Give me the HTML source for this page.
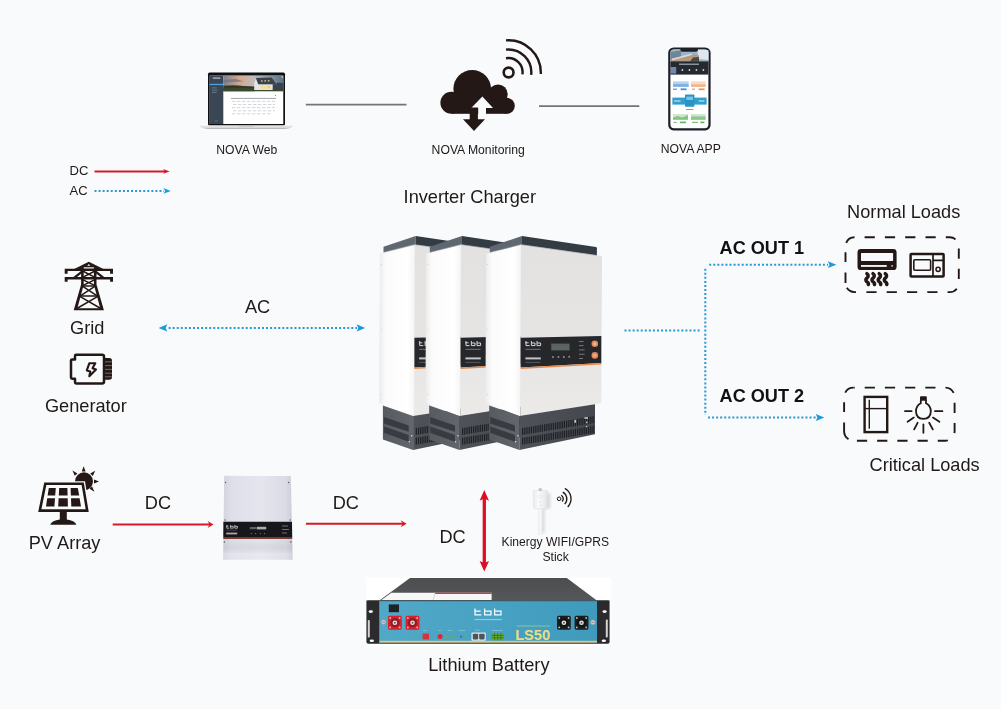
<!DOCTYPE html>
<html>
<head>
<meta charset="utf-8">
<title>NOVA System Diagram</title>
<style>
html,body{margin:0;padding:0;background:#f9fafc;}
body{width:1001px;height:709px;overflow:hidden;font-family:"Liberation Sans",sans-serif;}
svg{display:block;}
text{font-family:"Liberation Sans",sans-serif;fill:#1f1a17;}
.t18{font-size:18.2px;}
.t12{font-size:12.2px;}
.b{font-weight:bold;font-size:18.1px;fill:#111;}
.ic{fill:#231815;}
.is{stroke:#231815;fill:none;}
.red{stroke:#d7182a;fill:none;stroke-width:2;}
.redf{fill:#d7182a;}
.blu{stroke:#2b97d4;fill:none;stroke-width:2;stroke-dasharray:2 2.06;}
.bluf{fill:#1a9adc;}
</style>
</head>
<body>
<svg width="1001" height="709" viewBox="0 0 1001 709">
<defs>
<linearGradient id="gSide" x1="0" y1="0" x2="1" y2="0">
<stop offset="0" stop-color="#ebebeb"/><stop offset="0.18" stop-color="#fbfbfb"/><stop offset="0.8" stop-color="#ffffff"/><stop offset="1" stop-color="#f4f4f4"/>
</linearGradient>
<linearGradient id="gFront" x1="0" y1="0" x2="0" y2="1">
<stop offset="0" stop-color="#e3e2e0"/><stop offset="0.5" stop-color="#e5e4e2"/><stop offset="1" stop-color="#ebeae9"/>
</linearGradient>
<linearGradient id="gBaseF" x1="0" y1="0" x2="1" y2="0">
<stop offset="0" stop-color="#4f5359"/><stop offset="1" stop-color="#44484e"/>
</linearGradient>
<linearGradient id="gBaseL" x1="0" y1="0" x2="1" y2="0">
<stop offset="0" stop-color="#575b61"/><stop offset="1" stop-color="#63676d"/>
</linearGradient>
<g id="inv">
<!-- cap -->
<path d="M489.8 246.7 L522 236 L522 245 L489.8 252.6 Z" fill="#5f6871"/>
<path d="M522 236 L596 247.1 Q596.9 247.3 596.9 248.2 L596.9 255.5 L522 245 Z" fill="#333b43"/>
<!-- body -->
<path d="M486.2 253.6 L521 244.6 L520.3 416.4 L485.4 403.2 Z" fill="url(#gSide)"/>
<path d="M521 244.6 L602 256 L601.3 403.3 L520.3 416.4 Z" fill="url(#gFront)"/>
<path d="M489.8 252.4 L521 244.6 L596.8 255.4" fill="none" stroke="#9a9da1" stroke-width="0.6"/>
<!-- panel -->
<path d="M520.7 337.7 L601.3 335.9 L601.3 363 L520.7 367.4 Z" fill="#25272b"/>
<path d="M520.7 367.4 L601.3 363 L601.3 364.4 L520.7 368.9 Z" fill="#e58a4e"/>
<!-- logo -->
<g fill="none" stroke="#dedede" stroke-width="0.95">
<path d="M526 341 L526 345.6 L529.6 345.6 M525.2 342.8 L528.6 342.8"/>
<path d="M531.4 341 L531.4 345.6 L535 345.6 L535 343 L531.4 343"/>
<path d="M537 341 L537 345.6 L540.6 345.6 L540.6 343 L537 343"/>
</g>
<rect x="525.4" y="348.9" width="15" height="0.8" fill="#848484"/>
<rect x="525.4" y="357.4" width="15.4" height="2" fill="#c2c2c2"/>
<rect x="525.4" y="361.9" width="15" height="0.7" fill="#6f6f6f"/>
<!-- base -->
<path d="M489.2 405.5 L519.4 416 L519.4 450 L489.2 439.6 Z" fill="url(#gBaseL)"/>
<path d="M519.4 416 L595 404.2 L595 434.2 L519.4 450 Z" fill="url(#gBaseF)"/>
<path d="M490.2 417 L515 425.4 L515 431.8 L490.2 423.4 Z M490.2 426.4 L515 435 L515 441.8 L490.2 432.8 Z" fill="#383b40"/>
<g transform="matrix(1 -0.166 0 1 0 86.55)"><path d="M522 431.6 H594.2" stroke="#1f2125" stroke-width="7" stroke-dasharray="1.25 0.95" fill="none"/>
<path d="M522 441.4 H594.2" stroke="#1f2125" stroke-width="7" stroke-dasharray="1.25 0.95" fill="none"/></g>
<g fill="#c4c6c9"><rect x="574.4" y="419.8" width="1.6" height="3"/><rect x="584.4" y="417.2" width="3.6" height="1.6"/><rect x="586" y="421.6" width="1.4" height="1.6"/><rect x="586" y="426" width="1.2" height="1.2"/></g>
<circle cx="518" cy="435.8" r="0.7" fill="#e8e8e8"/><circle cx="515.6" cy="441.8" r="0.7" fill="#e8e8e8"/>
<circle cx="487.6" cy="264.6" r="0.5" fill="#c8c8c8"/><circle cx="487.6" cy="329.6" r="0.5" fill="#c8c8c8"/><circle cx="487.4" cy="394.4" r="0.5" fill="#c8c8c8"/>
</g>
<linearGradient id="gCtl" x1="0" y1="0" x2="1" y2="0">
<stop offset="0" stop-color="#d3d3df"/><stop offset="0.12" stop-color="#dfdfea"/><stop offset="0.55" stop-color="#e5e5ee"/><stop offset="0.9" stop-color="#dbdbe6"/><stop offset="1" stop-color="#cbcbd7"/>
</linearGradient>
<linearGradient id="gCtlV" x1="0" y1="0" x2="0" y2="1">
<stop offset="0" stop-color="#ffffff" stop-opacity="0.0"/><stop offset="0.5" stop-color="#ffffff" stop-opacity="0"/><stop offset="0.8" stop-color="#000000" stop-opacity="0.02"/><stop offset="0.93" stop-color="#ffffff" stop-opacity="0.16"/><stop offset="1" stop-color="#ffffff" stop-opacity="0.1"/>
</linearGradient>
<linearGradient id="gBatTop" x1="0" y1="0" x2="0" y2="1">
<stop offset="0" stop-color="#4b4d4f"/><stop offset="1" stop-color="#55575a"/>
</linearGradient>
<linearGradient id="gBatF" x1="0" y1="0" x2="1" y2="0">
<stop offset="0" stop-color="#52a8c7"/><stop offset="0.5" stop-color="#48a2c3"/><stop offset="1" stop-color="#3f9abc"/>
</linearGradient>
<g id="conn">
<rect x="0" y="0" width="13.8" height="14" rx="1.6"/>
<circle cx="6.9" cy="7" r="4.6" fill="#000" fill-opacity="0.28"/>
<circle cx="6.9" cy="7" r="2.3" fill="#e9e9e9"/>
<circle cx="6.9" cy="7" r="1" fill="#555"/>
<g fill="#e8d8d0" fill-opacity="0.85"><circle cx="2.2" cy="2.3" r="0.9"/><circle cx="11.6" cy="2.3" r="0.9"/><circle cx="2.2" cy="11.7" r="0.9"/><circle cx="11.6" cy="11.7" r="0.9"/></g>
</g>
<linearGradient id="gSky" x1="0" y1="0" x2="1" y2="0">
<stop offset="0" stop-color="#7b808a"/><stop offset="0.27" stop-color="#d3a88f"/><stop offset="0.5" stop-color="#c2babb"/><stop offset="0.75" stop-color="#8a97a6"/><stop offset="1" stop-color="#5f7186"/>
</linearGradient>
<linearGradient id="gLapBase" x1="0" y1="0" x2="0" y2="1">
<stop offset="0" stop-color="#ececee"/><stop offset="0.6" stop-color="#d9d9dc"/><stop offset="1" stop-color="#a9a9ad"/>
</linearGradient>
<linearGradient id="gStick" x1="0" y1="0" x2="1" y2="0">
<stop offset="0" stop-color="#e9eaec"/><stop offset="0.4" stop-color="#fbfbfc"/><stop offset="1" stop-color="#e3e4e7"/>
</linearGradient>
<filter id="blur2" x="-50%" y="-50%" width="200%" height="200%"><feGaussianBlur stdDeviation="1.6"/></filter>
<filter id="nf" x="0" y="0" width="1001" height="709" filterUnits="userSpaceOnUse"><feOffset dx="0" dy="0"/></filter>
</defs>
<rect x="0" y="0" width="1001" height="709" fill="#f9fafc"/>

<!-- ===== TEXT LABELS ===== -->
<g id="labels" filter="url(#nf)">
<text class="t12" x="216.2" y="153.6">NOVA Web</text>
<text class="t12" x="431.6" y="153.8">NOVA Monitoring</text>
<text class="t12" x="660.8" y="153.1">NOVA APP</text>
<text class="t12" x="69.6" y="174.8" style="font-size:13px">DC</text>
<text class="t12" x="69.6" y="195.1" style="font-size:13px">AC</text>
<text class="t18" x="403.6" y="202.7">Inverter Charger</text>
<text class="t18" x="847.1" y="218">Normal Loads</text>
<text class="t18" x="869.5" y="470.9">Critical Loads</text>
<text class="b" x="719.6" y="253.5">AC OUT 1</text>
<text class="b" x="719.6" y="402.3">AC OUT 2</text>
<text class="t18" x="244.9" y="312.5">AC</text>
<text class="t18" x="70.1" y="334.3">Grid</text>
<text class="t18" x="44.9" y="411.7">Generator</text>
<text class="t18" x="28.7" y="549">PV Array</text>
<text class="t18" x="144.8" y="509.4">DC</text>
<text class="t18" x="332.7" y="509.4">DC</text>
<text class="t18" x="439.4" y="542.5">DC</text>
<text class="t12" x="501.6" y="546.3" style="font-size:12.1px">Kinergy WIFI/GPRS</text>
<text class="t12" x="542.4" y="561.1">Stick</text>
<text class="t18" x="428.2" y="671.1">Lithium Battery</text>
</g>

<!-- ===== LINES / ARROWS ===== -->
<g id="arrows">
<!-- legend -->
<line class="red" x1="94.5" y1="171.4" x2="165" y2="171.4" stroke-width="1.8"/>
<path class="redf" d="M169.6 171.4 L163.2 169 L164.8 171.4 L163.2 173.8 Z"/>
<line class="blu" x1="94.5" y1="190.9" x2="164" y2="190.9"/>
<path class="bluf" d="M170.8 190.9 L163.4 188 L165.2 190.9 L163.4 193.8 Z"/>
<!-- gray connectors -->
<line x1="305.8" y1="104.7" x2="406.5" y2="104.7" stroke="#747474" stroke-width="1.8"/>
<line x1="539" y1="106.2" x2="639.3" y2="106.2" stroke="#747474" stroke-width="1.8"/>
<!-- Grid <-> inverter -->
<line class="blu" x1="168.6" y1="327.9" x2="357" y2="327.9"/>
<path class="bluf" d="M158.6 327.9 L167.3 324.3 L165.6 327.9 L167.3 331.5 Z"/>
<path class="bluf" d="M365.2 327.9 L356.6 324.3 L358.3 327.9 L356.6 331.5 Z"/>
<!-- inverter -> loads -->
<line class="blu" x1="624.5" y1="330.5" x2="701.2" y2="330.5"/>
<line class="blu" x1="705.3" y1="268.7" x2="705.3" y2="415"/>
<line class="blu" x1="709.2" y1="264.7" x2="828" y2="264.7"/>
<path class="bluf" d="M836.4 264.7 L827.8 261.3 L829.5 264.7 L827.8 268.1 Z"/>
<line class="blu" x1="708" y1="417.5" x2="816.4" y2="417.5"/>
<path class="bluf" d="M824.3 417.5 L815.7 413.9 L817.4 417.5 L815.7 421.1 Z"/>
<!-- DC arrows -->
<line class="red" x1="112.7" y1="524.5" x2="210" y2="524.5" stroke-width="2.4"/>
<path class="redf" d="M213.5 524.5 L207.6 521 L209.6 524.5 L207.6 528 Z"/>
<line class="red" x1="306" y1="523.7" x2="403" y2="523.7" stroke-width="2.4"/>
<path class="redf" d="M406.6 523.7 L400.7 520.2 L402.7 523.7 L400.7 527.2 Z"/>
<!-- vertical DC double arrow -->
<line x1="484.3" y1="498" x2="484.3" y2="564" stroke="#dc0f24" stroke-width="3.3"/>
<path fill="#dc0f24" d="M484.3 490.1 L479.6 500.8 L484.3 498.6 L489 500.8 Z"/>
<path fill="#dc0f24" d="M484.3 571.6 L479.6 560.9 L484.3 563.1 L489 560.9 Z"/>
</g>

<!-- ===== ICONS ===== -->
<g id="icons">
<!-- Tower -->
<g class="ic">
<path d="M88.8 261.7 L103.4 268.9 L74.2 268.9 Z"/>
<path d="M64.7 268.7 L113 268.7 L113 273.7 L110.1 273.7 L110.1 271 L67.6 271 L67.6 273.7 L64.7 273.7 Z"/>
<path d="M64.7 277.1 L113 277.1 L113 281.7 L110.1 281.7 L110.1 279.6 L67.6 279.6 L67.6 281.7 L64.7 281.7 Z"/>
<path d="M81.1 267 L83.7 267 L83.7 284.8 L77.4 308.3 L100.2 308.3 L93.9 284.8 L93.9 267 L96.5 267 L96.5 284.4 L103.9 310.3 L73.7 310.3 L81.1 284.4 Z"/>
</g>
<g class="is" stroke-width="2.3">
<path d="M82 271.6 L74.4 277.6 M95.6 271.6 L103.2 277.6"/>
</g>
<g class="is" stroke-width="1.5">
<path d="M82.6 271 L95 277.4 M95 271 L82.6 277.4"/>
<path d="M82.6 279.6 L95 285.6 M95 279.6 L82.6 285.6"/>
<path d="M82.4 286.2 L97.2 295.8 M95.2 286.2 L80.4 295.8"/>
<path d="M79.8 296.4 L101.6 309 M97.8 296.4 L76 309"/>
<path d="M81.8 286 L95.8 286 M79.6 296 L98 296" stroke-width="1.4"/>
</g>
<rect x="83.7" y="267.3" width="10.2" height="1.2" fill="#f9fafc"/>
<path d="M88.8 264 L90.4 265.8 L87.2 265.8 Z" fill="#f9fafc"/>

<!-- Generator -->
<path class="is" stroke-width="2.5" stroke-linejoin="round" d="M76.2 354.7 L102 354.7 Q104 354.7 104 356.7 L104 381.5 Q104 383.5 102 383.5 L76.2 383.5 Q75 383.5 75 382.3 L75 378.8 L72.2 378.8 Q71 378.8 71 377.6 L71 360.6 Q71 359.4 72.2 359.4 L75 359.4 L75 355.9 Q75 354.7 76.2 354.7 Z"/>
<path class="ic" d="M104 358 L109.2 358 Q112 358 112 360.8 L112 377 Q112 379.8 109.2 379.8 L104 379.8 Z"/>
<path d="M105 361.8 L112 361.8 M105 365.6 L112 365.6 M105 369.4 L112 369.4 M105 373.2 L112 373.2 M105 376.8 L112 376.8" stroke="#9b918d" stroke-width="0.7"/>
<path class="is" stroke-width="2.1" stroke-linejoin="round" d="M89.3 363.3 L95.3 363.3 L92.5 368.3 L96 369.5 L89.3 376.2 L90.3 371.4 L86.8 370.4 Z"/>

<!-- PV -->
<circle class="ic" cx="84" cy="481.3" r="9"/>
<path class="ic" d="M83.6 466.2 L85.6 471.4 L81.8 471.4 Z M72.4 470.4 L77.4 473.4 L74.8 475.8 Z M95.2 470.8 L92.8 476 L90.2 473.6 Z M99 481.4 L94 483.4 L94 479.6 Z M94.4 491.8 L89.6 488.8 L92 486.2 Z"/>
<path d="M43 481.2 L85 481.2 L90 513 L37 513 Z" fill="#f9fafc"/>
<path class="is" stroke-width="2.6" d="M45.3 483.7 L82.7 483.7 L87.2 510.6 L39.8 510.6 Z"/>
<path class="ic" d="M48.8 488 L55.8 488 L55.2 495.6 L47.6 495.6 Z M59.2 488 L67.4 488 L67.6 495.6 L58.8 495.6 Z M70.6 488 L77.8 488 L79.2 495.6 L70.9 495.6 Z M47.2 498.3 L55 498.3 L54.4 506.4 L46 506.4 Z M58.6 498.3 L67.7 498.3 L67.9 506.4 L58.2 506.4 Z M71 498.3 L79.6 498.3 L81 506.4 L71.3 506.4 Z"/>
<rect class="ic" x="59.8" y="511" width="7" height="10"/>
<path class="ic" d="M50.2 524.8 Q52 520.4 59.8 519.6 L66.8 519.6 Q74.6 520.4 76.4 524.8 Z"/>

<!-- Cloud -->
<g class="ic"><circle cx="472.2" cy="88.8" r="18.8"/><circle cx="451.4" cy="102.7" r="11"/><circle cx="498" cy="94.2" r="9.7"/><circle cx="506.8" cy="105.8" r="8"/><rect x="451.4" y="96" width="55.4" height="17.8"/></g>
<path d="M482.4 96.6 L493 107.9 L486 107.9 L486 116 L478.2 116 L478.2 107.9 L471.2 107.9 Z" fill="#f9fafc"/>
<path class="ic" d="M469.7 107.4 L477.9 107.4 L477.9 119.2 L485 119.2 L474 130.9 L463 119.2 L469.7 119.2 Z"/>
<!-- wifi arcs -->
<circle class="is" cx="508.6" cy="72.5" r="4.9" stroke-width="2.6"/>
<g class="is" stroke-width="2.4">
<path d="M506 58.2 A14.2 14.2 0 0 1 522.4 74.4"/>
<path d="M506 49.6 A23 23 0 0 1 531.2 74.8"/>
<path d="M506 40.4 A32.4 32.4 0 0 1 540.8 74"/>
</g>

<!-- stick signal -->
<circle class="is" cx="559.1" cy="498.8" r="1.8" stroke-width="1"/>
<g class="is" stroke-width="1.35" transform="rotate(-9 559.1 498.8)">
<path d="M561.7 495.6 A4.1 4.1 0 0 1 561.7 502"/>
<path d="M563.8 492.7 A7.7 7.7 0 0 1 563.8 504.9"/>
<path d="M566.4 489.4 A11.9 11.9 0 0 1 566.4 508.2"/>
</g>

<!-- dashed boxes -->
<g class="is" stroke-width="1.9">
<path d="M854.5 237.3 H949.8 A9 9 0 0 1 958.8 246.3 V283.1 A9 9 0 0 1 949.8 292.1 H856.5" stroke-dasharray="10.2 10.1" stroke-dashoffset="10.2"/>
<path d="M856.5 292.1 H854.5 A9 9 0 0 1 845.5 283.1 V246.3 A9 9 0 0 1 854.5 237.3" stroke-dasharray="0 0.5 10.56 5.14 10.5 10.4 9.8 9.5 10.7 100"/>
<path d="M853.5 387.6 H945.2 A9.4 9.4 0 0 1 954.6 397 V431.3 A9.4 9.4 0 0 1 945.2 440.7 H853.5" stroke-dasharray="10.2 10" stroke-dashoffset="9"/>
<path d="M853.5 440.7 A9.4 9.4 0 0 1 844.1 431.3 V397 A9.4 9.4 0 0 1 853.5 387.6" stroke-dasharray="0 5.25 18.25 10.47 9.8 9.78 10.6 100"/>
</g>

<!-- AC unit -->
<rect class="ic" x="857.5" y="249.1" width="39.1" height="21" rx="3.4"/>
<rect x="861" y="252.9" width="32.1" height="8" rx="0.6" fill="#f9fafc"/>
<rect x="861" y="265" width="25.7" height="1.9" fill="#f4efee"/>
<circle cx="892.1" cy="265.9" r="0.8" fill="#f4efee"/>
<g class="is" stroke-width="3.5" stroke-linecap="round">
<path d="M866.9 273.7 C868.7 274.8 868.5 276.6 867.1 277.9 C865.6 279.2 865.4 280.5 866.7 281.6 C868.1 282.6 869.0 283.4 868.3 284.5"/>
<path d="M873.0 273.7 C874.8 274.8 874.6 276.6 873.2 277.9 C871.7 279.2 871.5 280.5 872.8 281.6 C874.2 282.6 875.1 283.4 874.4 284.5"/>
<path d="M879.2 273.7 C881.0 274.8 880.8 276.6 879.4 277.9 C877.9 279.2 877.7 280.5 879.0 281.6 C880.4 282.6 881.3 283.4 880.6 284.5"/>
<path d="M885.3 273.7 C887.1 274.8 886.9 276.6 885.5 277.9 C884.0 279.2 883.8 280.5 885.1 281.6 C886.5 282.6 887.4 283.4 886.7 284.5"/>
</g>
<!-- Microwave -->
<rect class="is" x="910.6" y="253.9" width="33" height="22.6" rx="0.8" stroke-width="2.5"/>
<rect class="is" x="913.8" y="259.7" width="16.8" height="10.5" rx="1" stroke-width="1.6"/>
<path class="is" d="M933 254 L933 276.4 M933 260.3 L943.6 260.3" stroke-width="1.7"/>
<circle class="is" cx="938.1" cy="269.3" r="2.1" stroke-width="1.5"/>

<!-- Fridge -->
<rect class="is" x="864.6" y="396.9" width="22.6" height="35.2" stroke-width="2.4"/>
<path class="is" d="M864.6 408.6 L887.2 408.6" stroke-width="1.4"/>
<path class="is" d="M869.3 399.8 L869.3 428.8" stroke-width="1.4"/>
<!-- Bulb -->
<g class="is" stroke-width="1.8" stroke-linecap="round">
<path d="M920.8 400.6 L920.8 403.2 Q916 405.6 916 411.4 Q916.2 418.6 923.4 418.8 Q930.6 418.6 930.8 411.4 Q930.8 405.6 926 403.2 L926 400.6"/>
<path d="M905 411.2 L911.6 411.2 M935 411.2 L942.4 411.2 M913.8 417.6 L907.6 421.8 M933 417.6 L939.4 421.8 M917.6 422.8 L914.2 429.4 M923.4 424.4 L923.4 432.8 M929.2 422.8 L932.8 429.4"/>
</g>
<rect class="ic" x="920" y="396.2" width="6.8" height="4.6" rx="1"/>
</g>

<!-- ===== DEVICES ===== -->
<g id="devices">
<!-- Laptop -->
<g id="laptop">
<rect x="208" y="72.6" width="77" height="53" rx="1.6" fill="#0e0f11"/>
<rect x="209.7" y="75.6" width="73.6" height="48.4" fill="#ffffff"/>
<rect x="209.7" y="75.6" width="13.6" height="48.4" fill="#3a4654"/>
<rect x="209.7" y="83.8" width="13.6" height="1.3" fill="#4aa3df"/>
<rect x="212.8" y="77.4" width="7.6" height="1.4" fill="#aab3be"/>
<g fill="#7d8998"><rect x="212" y="87.6" width="4.6" height="0.7"/><rect x="212" y="89.8" width="5.6" height="0.7"/><rect x="212" y="92" width="4.6" height="0.7"/><rect x="215" y="120.6" width="2.6" height="0.6"/></g>
<rect x="223.3" y="75.8" width="60" height="15.4" fill="url(#gSky)"/>
<path d="M223.3 80 L236 79 L244 81.4 L223.3 82.6 Z" fill="#6d7480" fill-opacity="0.7"/>
<path d="M223.3 85.8 Q234 84.4 244 86 L255 86.4 L255 91.2 L223.3 91.2 Z" fill="#33382c"/>
<rect x="223.3" y="88.2" width="60" height="3" fill="#3c4a2b"/>
<path d="M254.2 90 L254.2 83.4 L255.9 78 L258.2 84.3 L272.8 84.3 L272.8 90 Z" fill="#e3e7eb"/>
<path d="M255.9 78 L271.6 77.5 L276.4 84.3 L258.2 84.3 Z" fill="#3b424b"/>
<rect x="260.4" y="85.4" width="5.4" height="3.4" fill="#f7dc8c"/><rect x="266.8" y="85.6" width="3.8" height="3" fill="#f4d27c"/>
<rect x="261" y="80.4" width="1.6" height="1.2" fill="#f1d68a"/><rect x="264.4" y="80.3" width="1.6" height="1.2" fill="#f1d68a"/><rect x="267.8" y="80.2" width="1.6" height="1.2" fill="#f1d68a"/>
<path d="M272.8 84.3 L276.4 84.3 L277 82.6 L283.3 83 L283.3 90 L272.8 90 Z" fill="#39434d"/>
<rect x="281.6" y="76.4" width="1.2" height="1.2" fill="#eef1f4"/>
<rect x="231" y="97.9" width="45" height="1.1" fill="#a9aeb4"/>
<g stroke="#c9ccd0" stroke-width="0.8" stroke-dasharray="3.4 1.6"><path d="M232 101.4 H275 M233 104.5 H275 M232 107.6 H275 M233 110.8 H275 M232 113.8 H272"/></g>
<circle cx="275.6" cy="95.4" r="0.5" fill="#666"/>
<path d="M200 125.4 L292.8 125.4 L292.8 126.6 Q290 129 284 129 L209 129 Q203 129 200 126.6 Z" fill="url(#gLapBase)"/>
<rect x="238.6" y="125.4" width="15.4" height="1" rx="0.5" fill="#b5b5b9"/>
</g>
<!-- Phone -->
<g id="phone">
<rect x="668.2" y="47.4" width="42.4" height="83" rx="5.4" fill="#1d2026"/>
<rect x="670.4" y="49.6" width="38" height="78.6" rx="3.6" fill="#ffffff"/>
<path d="M670.4 53.2 Q670.4 49.6 674 49.6 L704.8 49.6 Q708.4 49.6 708.4 53.2 L708.4 61.4 L670.4 61.4 Z" fill="#9db3c6"/>
<path d="M670.4 52 L681 50.4 L681 57 L670.4 60 Z" fill="#6f8496"/>
<path d="M697 50 L708.4 50 L708.4 60 L699 59 Z" fill="#dfe7ee"/>
<path d="M670.4 61.4 L670.4 59.4 L694 54.4 L699 55.4 L699 61.4 Z" fill="#b39a80"/>
<path d="M672 58.4 L692 53.6 L692 55 L672 60.4 Z" fill="#e3e6e8" fill-opacity="0.8"/>
<path d="M693 57.6 L699 57 L699 61.4 L690 61.4 Z" fill="#4f4a46"/>
<path d="M680.4 49 L698 49 L698 50 Q698 51.8 696 51.8 L682.4 51.8 Q680.4 51.8 680.4 50 Z" fill="#1d2026"/>
<rect x="670.4" y="61.3" width="38" height="13.3" fill="#252a31"/>
<rect x="679" y="63.6" width="20" height="1.2" fill="#a9afb6"/>
<rect x="670.6" y="67" width="5.6" height="6.6" fill="#6f8aa8"/>
<g fill="#d4d8dc"><circle cx="682.4" cy="70" r="0.9"/><circle cx="689.4" cy="70" r="0.9"/><circle cx="696.4" cy="70" r="0.9"/><circle cx="703.4" cy="70" r="0.9"/></g>
<rect x="673" y="81.4" width="15.6" height="5.4" fill="#b7d2ee"/><rect x="673" y="84" width="15.6" height="2.8" fill="#7fb0e6"/>
<rect x="691" y="81.4" width="14.6" height="5.4" fill="#f8d9c2"/><rect x="691" y="84.4" width="14.6" height="2.4" fill="#f0b48c"/>
<rect x="673" y="88.6" width="4" height="1.3" fill="#5b9be0"/><rect x="680.6" y="88.4" width="6" height="1.8" fill="#4a90e2"/>
<rect x="692" y="88.6" width="3" height="1.3" fill="#eda36e"/><rect x="698.6" y="88.4" width="6" height="1.8" fill="#ea935a"/>
<rect x="672.4" y="97.6" width="34.2" height="7" fill="#2f9fd0"/>
<rect x="685" y="94.4" width="9.4" height="12.4" rx="0.8" fill="#2a93c4"/>
<rect x="686.4" y="96.6" width="6.6" height="3.4" fill="#7cc6e4"/>
<rect x="674" y="100.4" width="6.6" height="1.2" fill="#bfe3f3"/><rect x="698.8" y="100.4" width="5.6" height="1.2" fill="#bfe3f3"/>
<rect x="686" y="109" width="7.4" height="0.9" fill="#8a8f94"/>
<rect x="673" y="114" width="15" height="5.8" fill="#cfe8cf"/><path d="M673 119.8 L673 117.6 L678 116 L682 117.4 L688 115 L688 119.8 Z" fill="#86c486"/>
<rect x="691" y="114" width="14.6" height="5.8" fill="#cfe8cf"/><rect x="691" y="116.4" width="14.6" height="3.4" fill="#8cc98c"/>
<rect x="673.6" y="121.8" width="3" height="1.2" fill="#7abf7a"/><rect x="680" y="121.6" width="6" height="1.6" fill="#5fb35f"/>
<rect x="692" y="121.8" width="6" height="1.2" fill="#7abf7a"/><rect x="700.4" y="121.6" width="4" height="1.6" fill="#5fb35f"/>
</g>
<!-- WiFi stick -->
<g id="stick">
<g filter="url(#blur2)" fill="#bfc0c4" fill-opacity="0.55"><rect x="543" y="493" width="7.4" height="15.6"/><rect x="541" y="509" width="3.6" height="24"/></g>
<path d="M533 491.8 Q533 490.4 534.4 490.4 L546.2 490.4 Q547.6 490.4 547.6 491.8 L546.9 507.4 Q546.9 508.8 545.5 508.8 L535.1 508.8 Q533.7 508.8 533.7 507.4 Z" fill="url(#gStick)" stroke="#dcdde0" stroke-width="0.5"/>
<rect x="538.3" y="508.6" width="3.6" height="25.6" fill="#f4f5f6" stroke="#e0e1e4" stroke-width="0.4"/>
<circle cx="540.3" cy="489.6" r="1.7" fill="#b9babd"/>
<circle cx="540.3" cy="489.6" r="0.7" fill="#dedfe1"/>
<circle cx="540.2" cy="496.6" r="1.5" fill="none" stroke="#d6d8db" stroke-width="0.5"/>
<rect x="539.4" y="501.6" width="1.8" height="0.8" fill="#cfd1d4"/><rect x="539.4" y="504.8" width="1.8" height="0.8" fill="#cfd1d4"/>
</g>
<!-- Charge controller -->
<g id="ctl">
<path d="M224.2 475.7 L290.8 476.1 L292.7 559.8 L223.1 559.8 Z" fill="url(#gCtl)"/>
<path d="M224.2 475.7 L290.8 476.1 L292.7 559.8 L223.1 559.8 Z" fill="url(#gCtlV)"/>
<path d="M223.4 521.8 L292 521.8 L292.2 537.8 L223.3 537.8 Z" fill="#17171b"/>
<path d="M223.3 537.8 L292.2 537.8 L292.2 538.9 L223.3 538.9 Z" fill="#7a4034"/>
<g fill="none" stroke="#cfcfd2" stroke-width="0.8">
<path d="M226.8 525 L226.8 528.2 L229.2 528.2 M226.2 526.1 L228.6 526.1"/>
<path d="M230.6 525 L230.6 528.2 L233.2 528.2 L233.2 526.3 L230.6 526.3"/>
<path d="M234.8 525 L234.8 528.2 L237.4 528.2 L237.4 526.3 L234.8 526.3"/>
</g>
<rect x="226.2" y="529.8" width="11" height="0.5" fill="#666"/>
<rect x="226.2" y="532.6" width="11" height="1.8" fill="#a9a9ad"/>
<rect x="249.8" y="527" width="7" height="2.2" fill="#5d6168"/>
<rect x="257" y="526.8" width="9.2" height="2.6" fill="#a9acb2"/>
<g fill="#808086"><circle cx="251.3" cy="533.6" r="0.6"/><circle cx="255.7" cy="533.6" r="0.6"/><circle cx="260.2" cy="533.6" r="0.6"/><circle cx="264.6" cy="533.6" r="0.6"/></g>
<g fill="#85858b"><rect x="282" y="525.6" width="6" height="0.8"/><rect x="282" y="529.2" width="7" height="0.8"/><rect x="282" y="532.6" width="5" height="0.8"/></g>
<g fill="#55555c"><circle cx="225.5" cy="482.5" r="0.7"/><circle cx="288.7" cy="482.5" r="0.7"/><circle cx="225" cy="520" r="0.7"/><circle cx="290.2" cy="520" r="0.7"/><circle cx="224.4" cy="542" r="0.8"/><circle cx="290.9" cy="542" r="0.8"/></g>
</g>
<!-- Battery -->
<g id="bat">
<rect x="366.2" y="577.4" width="245" height="69" fill="#ffffff"/>
<path d="M410 578 L566.8 578 L596.9 600.4 L379.3 600.4 Z" fill="url(#gBatTop)"/>
<path d="M391.4 592.7 L491.6 592.7 L491.6 600 L381.4 600 Z" fill="#f7f7f7"/>
<path d="M435.6 592.7 L491.6 592.7 L491.6 594.1 L434.6 594.1 Z" fill="#d8343c"/>
<path d="M435.4 592.7 L433 600" stroke="#b5b5b5" stroke-width="0.5"/>
<!-- ears -->
<path d="M366.4 601.4 Q366.4 600.2 367.6 600.2 L379.6 600.2 L379.6 643.8 L368.4 643.8 Q366.4 643.8 366.4 642 Z" fill="#2b2b2d"/>
<path d="M597 600.2 L608.4 600.2 Q609.6 600.2 609.6 601.4 L609.6 642 Q609.6 643.8 607.8 643.8 L597 643.8 Z" fill="#2b2b2d"/>
<ellipse cx="370.8" cy="611.6" rx="2.2" ry="1.4" fill="#fff"/><ellipse cx="371.8" cy="640.7" rx="2.2" ry="1.3" fill="#fff"/>
<ellipse cx="604.6" cy="611.6" rx="2.2" ry="1.4" fill="#fff"/><ellipse cx="603.8" cy="640.7" rx="2.2" ry="1.3" fill="#fff"/>
<rect x="367.8" y="620" width="2" height="17.6" rx="0.8" fill="#d4d4d4"/>
<rect x="605.8" y="619.6" width="2" height="18" rx="0.8" fill="#d4d4d4"/>
<!-- front -->
<rect x="379.4" y="600.2" width="217.6" height="43.6" fill="#2a4550"/>
<rect x="379.4" y="601.2" width="217.6" height="39.8" fill="url(#gBatF)"/>
<rect x="379.4" y="640.8" width="217.6" height="1.9" fill="#d9c98a"/>
<!-- switch -->
<rect x="388.8" y="604.4" width="10.2" height="7.8" fill="#1f2326"/>
<!-- screws -->
<circle cx="383.5" cy="622.1" r="2.6" fill="#c9ced2" stroke="#6c8893" stroke-width="0.6"/><circle cx="592.9" cy="622.3" r="2.6" fill="#c9ced2" stroke="#6c8893" stroke-width="0.6"/>
<path d="M382 622.1 H385 M591.4 622.3 H594.4" stroke="#8a6a6a" stroke-width="0.7"/>
<!-- connectors -->
<use href="#conn" x="388" y="615.7" fill="#d6222f"/>
<use href="#conn" x="405.6" y="615.7" fill="#d6222f"/>
<use href="#conn" x="557" y="615.7" fill="#1b1d1f"/>
<use href="#conn" x="574.6" y="615.7" fill="#1b1d1f"/>
<!-- small bits -->
<rect x="422.6" y="633.6" width="6.4" height="5.8" fill="#d8323a"/>
<circle cx="440.1" cy="636.6" r="2.5" fill="#d9283a"/>
<g fill="#6fae52"><circle cx="446.8" cy="636.6" r="0.9"/><circle cx="449.7" cy="636.6" r="0.9"/><circle cx="452.6" cy="636.6" r="0.9"/><circle cx="455.5" cy="636.6" r="0.9"/></g>
<circle cx="461" cy="636.6" r="0.9" fill="#4a4f8a"/><circle cx="465" cy="636.6" r="0.9" fill="#5fae6a"/>
<g fill="#8fc6da"><rect x="423" y="630" width="3.6" height="0.7"/><rect x="438.6" y="630" width="2.6" height="0.7"/><rect x="447.6" y="630" width="4" height="0.7"/><rect x="458.6" y="630" width="6.6" height="0.7"/><rect x="474.6" y="629.8" width="5" height="0.7"/><rect x="491.6" y="630.2" width="11" height="0.7"/></g>
<rect x="471.4" y="632.4" width="14.4" height="8.4" rx="1" fill="#dfe3e6"/>
<rect x="472.8" y="633.8" width="5.4" height="5.6" rx="0.8" fill="#4c545c"/><rect x="479.2" y="633.8" width="5.4" height="5.6" rx="0.8" fill="#4c545c"/>
<rect x="491.5" y="633" width="12.3" height="7.2" fill="#62ad2e"/>
<path d="M491.5 635.4 H503.8 M491.5 637.8 H503.8 M494.6 633 V640.2 M497.7 633 V640.2 M500.8 633 V640.2" stroke="#2f6a1c" stroke-width="0.7"/>
<!-- logo -->
<g fill="none" stroke="#f4fbff" stroke-width="1.25">
<path d="M475 608.6 L475 614.8 L481.4 614.8 M474.2 611.2 L480.6 611.2"/>
<path d="M484.6 608.6 L484.6 614.8 L491 614.8 L491 611.2 L484.6 611.2"/>
<path d="M494.6 608.6 L494.6 614.8 L501 614.8 L501 611.2 L494.6 611.2"/>
</g>
<rect x="474.4" y="619" width="27.4" height="1.1" fill="#d7edf5" fill-opacity="0.55"/>
<rect x="516.8" y="625.4" width="33.4" height="1.2" fill="#dcd489" fill-opacity="0.45"/>
<text x="515.2" y="639.7" style="font-weight:bold;font-size:14.6px;fill:#e9dd86">LS50</text>
</g>
<!-- Inverter x3 -->
<use href="#inv" transform="translate(-106.3 0)"/>
<use href="#inv" transform="translate(-60 0)"/>
<use href="#inv"/>
<!-- front unit controls -->
<rect x="551.1" y="343.6" width="18.6" height="6.8" fill="#5b6460" stroke="#3a3f3d" stroke-width="0.5"/>
<g fill="#8c8c8c"><circle cx="553" cy="357.1" r="1"/><circle cx="558.4" cy="357" r="1"/><circle cx="563.8" cy="356.9" r="1"/><circle cx="569.2" cy="356.8" r="1"/></g>
<g fill="#8a8a8a"><rect x="579" y="341.1" width="4.6" height="0.8"/><rect x="579" y="345.3" width="4.6" height="0.8"/><rect x="579" y="349.5" width="5.6" height="0.8"/><rect x="579" y="353.8" width="5.6" height="0.8"/><rect x="579" y="358" width="4" height="0.8"/></g>
<circle cx="594.8" cy="343.8" r="3.3" fill="#df8a58"/><circle cx="594.8" cy="343.8" r="1.6" fill="#f0b591"/>
<circle cx="594.8" cy="355.4" r="3.3" fill="#df8a58"/><circle cx="594.8" cy="355.4" r="1.6" fill="#ecac84"/>
</g>
</svg>
</body>
</html>
